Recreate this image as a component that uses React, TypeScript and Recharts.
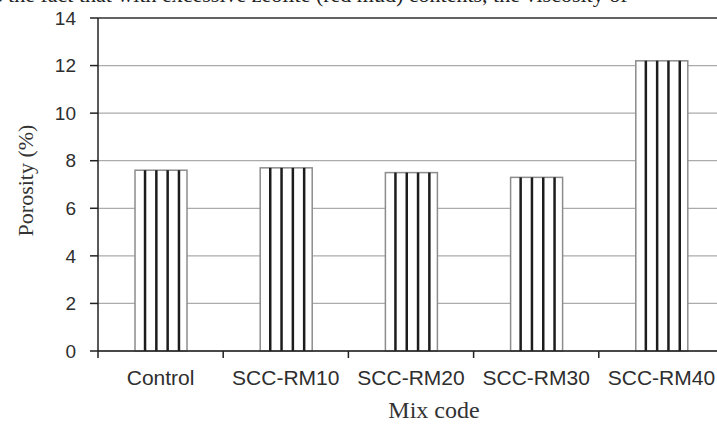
import { BarChart, Bar, XAxis, YAxis, CartesianGrid, ReferenceLine } from "recharts";

const mixCodes = ["Control", "SCC-RM10", "SCC-RM20", "SCC-RM30", "SCC-RM40"];
const porosity = [7.6, 7.7, 7.5, 7.3, 12.2];
const yTicks = [0, 2, 4, 6, 8, 10, 12, 14];

const data = mixCodes.map((name, i) => ({ name, porosity: porosity[i] }));

const sans = "'Liberation Sans', Arial, sans-serif";
const serif = "'Liberation Serif', 'Times New Roman', serif";

function StripedBar(props: any) {
  const { x, y, width, height } = props;
  if (!height || height <= 0) return null;
  const gap = width / 4.6;
  const mid = x + width / 2 + 1;
  const stripes = [-1.5, -0.5, 0.5, 1.5].map((k) => mid + k * gap);
  return (
    <g>
      <rect x={x} y={y} width={width} height={height} fill="#fff" stroke="#8c8c8c" strokeWidth={1.5} />
      {stripes.map((sx, i) => (
        <line key={i} x1={sx} x2={sx} y1={y} y2={y + height} stroke="#1c1c1c" strokeWidth={2.5} />
      ))}
    </g>
  );
}

// category label at the band centre, small tick at the band's left edge
function MixTick(props: any) {
  const { x, y, payload } = props;
  const edge = x - (payload.offset || 0);
  return (
    <g>
      <line x1={edge} x2={edge} y1={y - 19} y2={y - 12} stroke="#222" strokeWidth={1.5} />
      <text x={x} y={y} dy={15} textAnchor="middle" fontFamily={sans} fontSize={21} fill="#2e2e2e">
        {payload.value}
      </text>
    </g>
  );
}

export default function App() {
  return (
    <div
      style={{
        position: "absolute",
        left: 0,
        top: 0,
        width: 717,
        height: 424,
        overflow: "hidden",
        background: "#fff",
      }}
    >
      <div
        style={{
          position: "absolute",
          left: -6,
          top: -16,
          whiteSpace: "nowrap",
          fontFamily: serif,
          fontSize: 22,
          lineHeight: "22px",
          color: "#222",
        }}
      >
        s the fact that with excessive zeolite (red mud) contents, the viscosity of
      </div>
      <BarChart
        width={740}
        height={424}
        data={data}
        margin={{ top: 18, right: 16, bottom: 0, left: 0 }}
        barSize={52}
      >
        <CartesianGrid vertical={false} stroke="#ababab" strokeWidth={1.3} />
        <ReferenceLine y={14} stroke="#444" strokeWidth={1.5} />
        <XAxis
          dataKey="name"
          height={73}
          axisLine={{ stroke: "#222", strokeWidth: 1.5 }}
          tickLine={false}
          tickSize={6}
          tickMargin={13}
          tick={<MixTick />}
          interval={0}
          label={{
            value: "Mix code",
            position: "insideBottom",
            offset: 6,
            dx: 23,
            style: { fontFamily: serif, fontSize: 24, fill: "#333" },
          }}
        />
        <YAxis
          width={98}
          domain={[0, 14]}
          ticks={yTicks}
          interval={0}
          axisLine={{ stroke: "#222", strokeWidth: 1.5 }}
          tickLine={{ stroke: "#222", strokeWidth: 1.5 }}
          tickSize={8}
          tickMargin={14}
          tick={{ fontFamily: sans, fontSize: 19, fill: "#2e2e2e" }}
          label={{
            value: "Porosity (%)",
            angle: -90,
            position: "insideLeft",
            offset: 25,
            dy: -4,
            style: { fontFamily: serif, fontSize: 22, fill: "#333", textAnchor: "middle" },
          }}
        />
        <Bar dataKey="porosity" shape={<StripedBar />} isAnimationActive={false} />
      </BarChart>
    </div>
  );
}
